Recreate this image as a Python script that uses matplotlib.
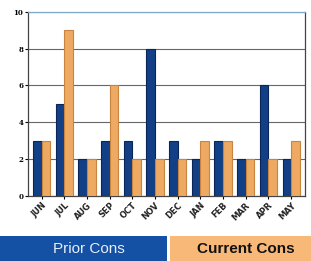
import numpy as np
import matplotlib.pyplot as plt
from matplotlib.patches import Rectangle

# data
months = ["JUN", "JUL", "AUG", "SEP", "OCT", "NOV", "DEC", "JAN", "FEB", "MAR", "APR", "MAY"]
prior_cons = [3, 5, 2, 3, 3, 8, 3, 2, 3, 2, 6, 2]
current_cons = [3, 9, 2, 6, 2, 2, 2, 3, 3, 2, 2, 3]
y_ticks = [0, 2, 4, 6, 8, 10]

BLUE = "#123f86"
BLUE_DARK = "#0a2558"
ORANGE = "#eeaa62"
ORANGE_DARK = "#c98440"

fig = plt.figure(figsize=(3.11, 2.61), dpi=100)
ax = fig.add_axes([0.09, 0.25, 0.89, 0.705])

x = np.arange(len(months))
w = 0.38
ax.bar(x - w / 2, prior_cons, width=w, color=BLUE, edgecolor=BLUE_DARK, linewidth=0.8, zorder=3)
ax.bar(x + w / 2, current_cons, width=w, color=ORANGE, edgecolor=ORANGE_DARK, linewidth=0.8, zorder=3)

ax.set_xlim(-0.6, len(months) - 0.4)
ax.set_ylim(0, 10)
ax.set_yticks(y_ticks)
ax.set_yticklabels([str(v) for v in y_ticks], fontsize=5, fontweight="bold", family="DejaVu Serif")
ax.set_xticks(x)
ax.set_xticklabels(months, rotation=45, ha="right", rotation_mode="anchor",
                   fontsize=6, fontweight="bold", color="#222222")
ax.tick_params(axis="both", length=2, pad=1.5)
ax.grid(axis="y", color="#666666", linewidth=0.8, zorder=0)
for s in ax.spines.values():
    s.set_color("#444444")
    s.set_linewidth(0.9)
ax.spines["top"].set_color("#7fa8c8")

# legend strip at the bottom
fig.patches.append(Rectangle((0.0, 0.0), 0.537, 0.096, transform=fig.transFigure,
                             facecolor="#1450a3", edgecolor="none"))
fig.patches.append(Rectangle((0.548, 0.0), 0.452, 0.096, transform=fig.transFigure,
                             facecolor="#f8b878", edgecolor="none"))
fig.text(0.285, 0.046, "Prior Cons", ha="center", va="center", fontsize=11,
         color="#e8eef8", family="Liberation Sans")
fig.text(0.79, 0.046, "Current Cons", ha="center", va="center", fontsize=11,
         fontweight="bold", color="#111111", family="Liberation Sans")

fig.savefig("out.png", dpi=100)
